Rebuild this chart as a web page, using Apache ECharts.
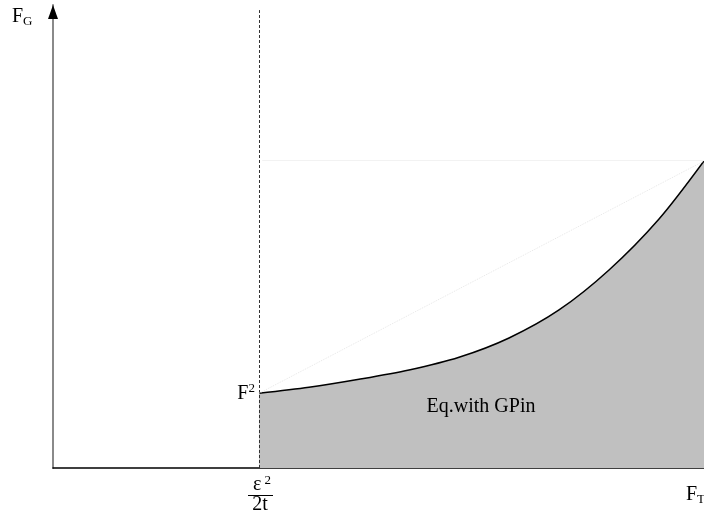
<!DOCTYPE html>
<html><head><meta charset="utf-8">
<script src="https://cdn.jsdelivr.net/npm/echarts@6/dist/echarts.min.js"></script>
<style>html,body{margin:0;padding:0;background:#fff}#c{width:704px;height:517px}</style>
</head><body><div id="c"></div>
<script>
// Data (arbitrary units: x and y axes both span 0..10)
const curveX = [3.164, 3.932, 4.700, 5.469, 6.237, 7.005, 7.773, 8.541, 9.309, 10];
const curveY = [1.613, 1.743, 1.916, 2.117, 2.391, 2.808, 3.413, 4.276, 5.378, 6.631];
const thresholdX = 3.164;  // ε²/2t
const startY = 1.613;      // F²
const topY = 6.65;
const dashTop = 9.89;
const regionLabel = 'Eq.with GPin';
const regionLabelPos = [6.575, 1.32];

const serif = 'Liberation Serif';
const chart = echarts.init(document.getElementById('c'));
chart.setOption({
  animation: false,
  grid: {left: 53, right: 0, top: 5, bottom: 49},
  xAxis: {type: 'value', min: 0, max: 10,
    axisLine: {lineStyle: {color: '#000', width: 1.5}},
    axisTick: {show: false}, axisLabel: {show: false}, splitLine: {show: false}},
  yAxis: {type: 'value', min: 0, max: 10,
    axisLine: {lineStyle: {color: '#8a8a8a', width: 2}},
    axisTick: {show: false}, axisLabel: {show: false}, splitLine: {show: false}},
  series: [
    {type: 'line', smooth: 0.3, symbol: 'none', clip: false,
     data: curveX.map((x, i) => [x, curveY[i]]),
     lineStyle: {color: '#000', width: 1.5},
     areaStyle: {color: '#c0c0c0', opacity: 1},
     markLine: {silent: true, symbol: 'none', label: {show: false},
       data: [
         [{coord: [thresholdX, 0], lineStyle: {color: '#333', type: [3, 2], width: 1}},
          {coord: [thresholdX, dashTop]}],
         [{coord: [thresholdX + 0.05, topY], lineStyle: {color: '#f2f2f2', type: 'solid', width: 1}},
          {coord: [10, topY]}],
         [{coord: [thresholdX, startY], lineStyle: {color: '#e6e6e6', type: [1, 1], width: 1}},
          {coord: [10, curveY[curveY.length - 1]]}]
       ]},
     markPoint: {silent: true,
       data: [
         {coord: [0, 9.85], symbol: 'triangle', symbolSize: [10, 14], itemStyle: {color: '#000'}, label: {show: false}},
         {coord: [thresholdX, startY], symbol: 'circle', symbolSize: 0,
          label: {show: true, position: 'left', distance: 4, formatter: '{b|F}{s|2}',
            rich: {b: {fontFamily: serif, fontSize: 20, color: '#000'},
                   s: {fontFamily: serif, fontSize: 13, color: '#000', padding: [0, 0, 9, 0]}}}},
         {coord: regionLabelPos, symbol: 'circle', symbolSize: 0,
          label: {show: true, position: 'inside', formatter: regionLabel,
            fontFamily: serif, fontSize: 20, color: '#000'}}
       ]}
    }
  ],
  graphic: [
    {type: 'text', left: 12, top: 7, style: {text: '{b|F}{s|G}',
      rich: {b: {fontFamily: serif, fontSize: 20, fill: '#000'},
             s: {fontFamily: serif, fontSize: 13, fill: '#000', padding: [9, 0, 0, 0]}}}},
    {type: 'text', left: 686, top: 485, style: {text: '{b|F}{s|T}',
      rich: {b: {fontFamily: serif, fontSize: 20, fill: '#000'},
             s: {fontFamily: serif, fontSize: 13, fill: '#000', padding: [9, 0, 0, 0]}}}},
    {type: 'text', x: 262, y: 474, style: {text: '{b|ε}{s| 2}', align: 'center',
      rich: {b: {fontFamily: serif, fontSize: 20, fill: '#000'},
             s: {fontFamily: serif, fontSize: 13, fill: '#000', padding: [0, 0, 9, 0]}}}},
    {type: 'line', shape: {x1: 248, y1: 495.5, x2: 273, y2: 495.5}, style: {stroke: '#000', lineWidth: 1}},
    {type: 'text', x: 260, y: 495, style: {text: '2t', align: 'center',
      fontFamily: serif, fontSize: 20, fill: '#000'}}
  ]
});
</script></body></html>
